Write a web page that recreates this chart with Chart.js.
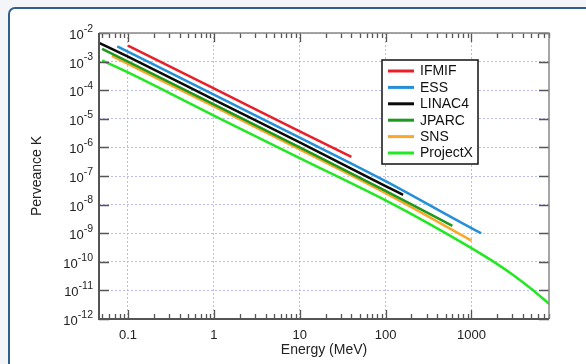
<!DOCTYPE html>
<html>
<head>
<meta charset="utf-8">
<script src="https://cdn.jsdelivr.net/npm/chart.js@4/dist/chart.umd.min.js"></script>
<style>
  html, body { margin: 0; padding: 0; background: #f3f5f8; }
  .card {
    position: absolute; left: 8px; top: 7px; width: 620px; height: 400px;
    background: #fff; border: 2px solid #2f5f8f; border-radius: 7px;
  }
  #wrap { position: absolute; left: 0; top: 0; width: 586px; height: 364px; }
</style>
</head>
<body>
<div class="card"></div>
<div id="wrap"><canvas id="myChart" width="586" height="364"></canvas></div>
<script>
// beam energy (MeV) and generalized perveance K for each linac
let energyIFMIF = [0.1, 1, 10, 40];
let kIFMIF = [3.6e-3, 1.15e-4, 3.6e-6, 4.7e-7];

let energyESS = [0.075, 1, 10, 100, 1000, 1300];
let kESS = [3.4e-3, 7.0e-5, 2.2e-6, 6.6e-8, 1.5e-9, 1.0e-9];

let energyLINAC4 = [0.045, 0.1, 1, 10, 100, 160];
let kLINAC4 = [4.7e-3, 1.48e-3, 4.7e-5, 1.5e-6, 4.4e-8, 2.2e-8];

let energyJPARC = [0.05, 0.1, 1, 10, 100, 600];
let kJPARC = [2.8e-3, 1.0e-3, 3.2e-5, 1.0e-6, 3.0e-8, 1.8e-9];

let energySNS = [0.065, 1, 10, 100, 1000];
let kSNS = [1.57e-3, 2.7e-5, 8.5e-7, 2.5e-8, 5.5e-10];

let energyProjectX = [0.05, 0.1, 1, 10, 100, 300, 1000, 2000, 3000, 5000, 8000];
let kProjectX = [1.1e-3, 4.2e-4, 1.3e-5, 4.2e-7, 1.4e-8, 2.4e-9, 3.0e-10, 8.3e-11, 3.6e-11, 1.12e-11, 3.4e-12];

let seriesNames = ['IFMIF', 'ESS', 'LINAC4', 'JPARC', 'SNS', 'ProjectX'];
let seriesColors = ['#e8202a', '#2590d8', '#0a0a0a', '#1d9a1d', '#fba72a', '#22e822'];
let seriesEnergy = [energyIFMIF, energyESS, energyLINAC4, energyJPARC, energySNS, energyProjectX];
let seriesK = [kIFMIF, kESS, kLINAC4, kJPARC, kSNS, kProjectX];

let xTicks = [0.1, 1, 10, 100, 1000];
let yExponents = [-12, -11, -10, -9, -8, -7, -6, -5, -4, -3, -2];

const FONT = '"Liberation Sans", Arial, sans-serif';

function toPoints(xs, ys) {
  let pts = [];
  for (let i = 0; i < xs.length; i++) pts.push({x: xs[i], y: ys[i]});
  return pts;
}

// frame, inward tick marks, exponent labels and legend box
const decorations = {
  id: 'decorations',
  afterDraw(chart) {
    const ctx = chart.ctx;
    const a = chart.chartArea;
    const xs = chart.scales.x;
    const ys = chart.scales.y;
    ctx.save();

    // tick marks on all four sides
    ctx.strokeStyle = '#555';
    ctx.lineWidth = 1.3;
    ctx.beginPath();
    for (let e = -2; e <= 3; e++) {
      for (let m = 1; m <= 9; m++) {
        let v = m * Math.pow(10, e);
        if (v < xs.min || v > xs.max) continue;
        let px = Math.round(xs.getPixelForValue(v)) + 0.5;
        let len = m === 1 ? 9 : 5;
        ctx.moveTo(px, a.bottom); ctx.lineTo(px, a.bottom - len);
        ctx.moveTo(px, a.top); ctx.lineTo(px, a.top + len);
      }
    }
    yExponents.forEach(e => {
      let py = Math.round(ys.getPixelForValue(Math.pow(10, e))) + 0.5;
      ctx.moveTo(a.left, py); ctx.lineTo(a.left + 10, py);
      ctx.moveTo(a.right, py); ctx.lineTo(a.right - 10, py);
    });
    ctx.stroke();

    // plot frame
    ctx.lineWidth = 1.5;
    ctx.strokeStyle = '#888';
    ctx.beginPath();
    ctx.moveTo(a.left, a.top); ctx.lineTo(a.right, a.top); ctx.lineTo(a.right, a.bottom);
    ctx.stroke();
    ctx.lineWidth = 2;
    ctx.strokeStyle = '#555';
    ctx.beginPath();
    ctx.moveTo(a.left, a.top); ctx.lineTo(a.left, a.bottom); ctx.lineTo(a.right, a.bottom);
    ctx.stroke();

    // y labels as 10 with a raised exponent
    ctx.fillStyle = '#222';
    ctx.textBaseline = 'middle';
    ctx.textAlign = 'right';
    yExponents.forEach(e => {
      let py = ys.getPixelForValue(Math.pow(10, e));
      ctx.font = '10.5px ' + FONT;
      let expText = String(e);
      let w = ctx.measureText(expText).width;
      ctx.fillText(expText, 93, py - 4);
      ctx.font = '13px ' + FONT;
      ctx.fillText('10', 93 - w, py + 2.5);
    });

    // legend
    let bx = 382, by = 60, bw = 96, bh = 104;
    ctx.fillStyle = '#fff';
    ctx.fillRect(bx, by, bw, bh);
    ctx.lineWidth = 1.5;
    ctx.strokeStyle = '#111';
    ctx.strokeRect(bx, by, bw, bh);
    ctx.textAlign = 'left';
    ctx.font = '14px ' + FONT;
    chart.data.datasets.forEach((ds, i) => {
      let ry = by + 11 + i * 16.4;
      ctx.strokeStyle = ds.borderColor;
      ctx.lineWidth = 3;
      ctx.beginPath();
      ctx.moveTo(bx + 6, ry); ctx.lineTo(bx + 32, ry);
      ctx.stroke();
      ctx.fillStyle = '#111';
      ctx.fillText(ds.label, bx + 38, ry + 0.5);
    });
    ctx.restore();
  }
};

function runGraph() {
  let ctx = document.getElementById('myChart').getContext('2d');
  let datasets = [];
  for (let i = 0; i < seriesNames.length; i++) {
    datasets.push({
      label: seriesNames[i],
      data: toPoints(seriesEnergy[i], seriesK[i]),
      borderColor: seriesColors[i],
      backgroundColor: seriesColors[i],
      borderWidth: 2.5,
      pointRadius: 0,
      cubicInterpolationMode: 'monotone',
      fill: false
    });
  }
  return new Chart(ctx, {
    type: 'line',
    data: { datasets: datasets },
    plugins: [decorations],
    options: {
      responsive: false,
      animation: false,
      layout: { padding: { left: 0, top: 33, right: 37, bottom: 0 } },
      plugins: { legend: { display: false }, tooltip: { enabled: false } },
      scales: {
        x: {
          type: 'logarithmic',
          bounds: 'data',
          min: 0.046,
          max: 8000,
          afterBuildTicks: scale => { scale.ticks = xTicks.map(v => ({value: v})); },
          afterFit: scale => { scale.height = 45; },
          grid: { color: '#bcbcf4', lineWidth: 1, drawTicks: false },
          border: { display: false, dash: [2, 2] },
          ticks: {
            padding: 9,
            color: '#222',
            font: { family: FONT, size: 13 },
            maxRotation: 0,
            autoSkip: false,
            callback: v => String(v)
          },
          title: {
            display: true,
            text: 'Energy (MeV)',
            color: '#222',
            font: { family: FONT, size: 14 },
            padding: { top: 0, bottom: 5.6 }
          }
        },
        y: {
          type: 'logarithmic',
          bounds: 'data',
          min: 1e-12,
          max: 1e-2,
          afterBuildTicks: scale => { scale.ticks = yExponents.map(e => ({value: Math.pow(10, e)})); },
          afterFit: scale => { scale.width = 99; },
          grid: { color: '#bcbcf4', lineWidth: 1, drawTicks: false },
          border: { display: false, dash: [2, 2] },
          ticks: { display: false },
          title: {
            display: true,
            text: 'Perveance K',
            color: '#222',
            font: { family: FONT, size: 14 },
            padding: { top: 28.6, bottom: 0 }
          }
        }
      }
    }
  });
}

let myChart = runGraph();
</script>
</body>
</html>
